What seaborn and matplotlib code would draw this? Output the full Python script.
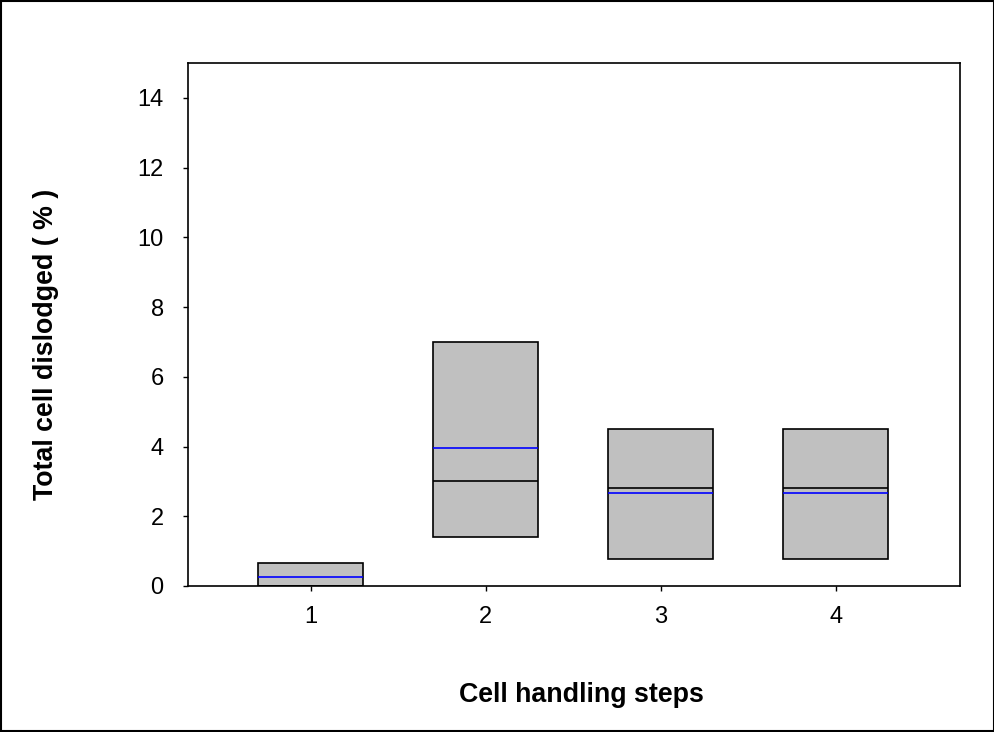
import matplotlib
matplotlib.use("Agg")
import matplotlib.pyplot as plt
import seaborn as sns
import pandas as pd

steps = ["1", "2", "3", "4"]
step1 = [0.0, 0.0, 0.0, 0.66, 0.66]
step2 = [1.4, 1.4, 3.0, 7.0, 7.0]
step3 = [0.77, 0.77, 2.8, 4.5, 4.5]
step4 = [0.77, 0.77, 2.8, 4.5, 4.5]
yticks = [0, 2, 4, 6, 8, 10, 12, 14]

df = pd.DataFrame({
    "step": [s for s, v in zip(steps, [step1, step2, step3, step4]) for _ in v],
    "value": step1 + step2 + step3 + step4,
})

sns.set_theme(style="ticks")
plt.rcParams["font.family"] = ["Liberation Sans", "DejaVu Sans"]
plt.rcParams["text.color"] = "black"
plt.rcParams["axes.labelcolor"] = "black"

fig = plt.figure(figsize=(9.95, 7.32), dpi=100)
ax = fig.add_axes([188 / 995, 1 - 586 / 732, (960 - 188) / 995, (586 - 63) / 732])

sns.boxplot(data=df, x="step", y="value", order=steps, ax=ax, width=0.6,
            color="#C0C0C0", saturation=1, whis=1.5, showfliers=False,
            showmeans=True, meanline=True,
            boxprops=dict(facecolor="#C0C0C0", edgecolor="black", linewidth=1.2),
            medianprops=dict(color="black", linewidth=1.2),
            meanprops=dict(color="#0000FF", linewidth=1.2, linestyle="-"),
            whiskerprops=dict(color="black", linewidth=1.2),
            capprops=dict(color="black", linewidth=0),
            linecolor="black")

ax.set_xlim(-0.7, 3.71)
ax.set_ylim(0, 15)
ax.set_yticks(yticks)
ax.set_yticklabels([str(t) for t in yticks])
for s in ax.spines.values():
    s.set_visible(True)
    s.set_linewidth(1.2)
    s.set_color("black")
ax.tick_params(axis="both", direction="out", length=3.5, width=1, colors="black",
               labelsize=17)
ax.tick_params(axis="y", pad=14)
ax.tick_params(axis="x", pad=11)
ax.set_xlabel("Cell handling steps", fontsize=19.3, fontweight="bold")
ax.set_ylabel("Total cell dislodged ( % )", fontsize=19.3, fontweight="bold")
ax.xaxis.set_label_coords((581 - 188) / 772, (586 - 682) / 523)
ax.yaxis.set_label_coords((59 - 188) / 772, (586 - 344) / 523)

# figure border
fig.patches.append(plt.Rectangle((0.001, 0.001), 0.998, 0.998, transform=fig.transFigure,
                                 fill=False, edgecolor="black", linewidth=1.5))

fig.savefig("out.png", dpi=100)
